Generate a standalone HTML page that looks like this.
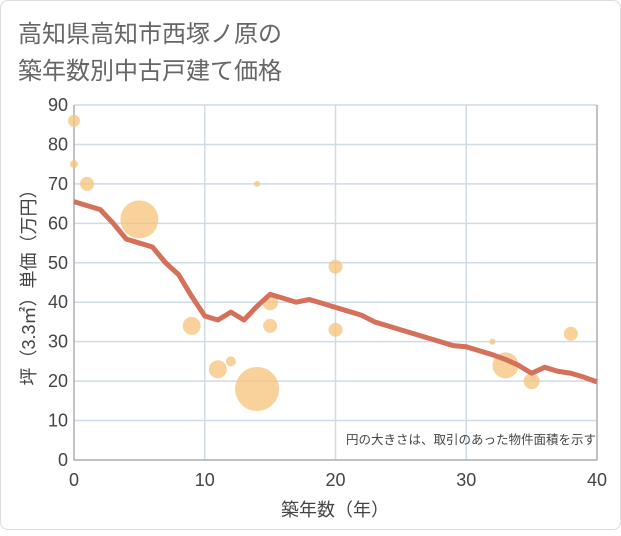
<!DOCTYPE html>
<html><head><meta charset="utf-8"><style>
body{margin:0;background:#fff;}
#c{position:absolute;left:0;top:0;width:619px;height:528px;border:1px solid #ddd;border-radius:8px;background:#fff;}
text{font-family:"Liberation Sans","Noto Sans CJK JP",sans-serif;}
</style></head><body>
<div id="c">
<svg id="s" width="621" height="530">
<text x="17" y="41" font-size="24" fill="#666">高知県高知市西塚ノ原の</text>
<text x="17" y="78" font-size="24" fill="#666">築年数別中古戸建て価格</text>
<g id="grid"></g><g id="marks"></g>
<text x="334" y="515" font-size="18" fill="#444" text-anchor="middle">築年数（年）</text>
<text transform="translate(34,282) rotate(-90)" font-size="18" fill="#444" text-anchor="middle">坪（3.3㎡）単価（万円）</text>
<text x="595" y="443" font-size="12.5" fill="#444" text-anchor="end">円の大きさは、取引のあった物件面積を示す</text>
</svg></div>
<script>
const xTicks=[0,10,20,30,40];
const yTicks=[0,10,20,30,40,50,60,70,80,90];
const lineYears=[0,1,2,3,4,5,6,7,8,9,10,11,12,13,14,15,16,17,18,19,20,21,22,23,24,25,26,27,28,29,30,31,32,33,34,35,36,37,38,39,40];
const lineValues=[65.5,64.5,63.5,60,56,55,54,50,47,41.5,36.5,35.5,37.5,35.5,39,42,41,40,40.7,39.7,38.7,37.7,36.7,35,34,33,32,31,30,29,28.7,27.7,26.7,25.5,24,22,23.5,22.5,22,21,19.8];
const bubX=[0,0,1,5,9,11,12,14,14,15,15,20,20,32,33,35,38];
const bubY=[86,75,70,61,34,23,25,18,70,40,34,49,33,30,24,20,32];
const bubR=[6,4,7,19,9,9,5,22,3,8,7,7,7,3,13,8,7];
const X=v=>73+v*(596-73)/40, Y=v=>459-v*(459-104)/90;
const ns='http://www.w3.org/2000/svg';
function mk(t,a,p){const e=document.createElementNS(ns,t);for(const k in a)e.setAttribute(k,a[k]);p.appendChild(e);return e;}
const g=document.getElementById('grid'),m=document.getElementById('marks');
yTicks.forEach(v=>{const l=mk('line',{x1:73,x2:596,y1:Y(v),y2:Y(v),stroke:'#cfdbe8','stroke-width':1.5},g);

const t=mk('text',{x:67,y:Y(v)+6,'font-size':18,fill:'#444','text-anchor':'end'},g);t.textContent=v;
});
xTicks.forEach(v=>{const l=mk('line',{x1:X(v),x2:X(v),y1:104,y2:459,stroke:'#cfdbe8','stroke-width':1.5},g);

const t=mk('text',{x:X(v),y:485,'font-size':18,fill:'#444','text-anchor':'middle'},g);t.textContent=v;
});
const ax=mk('path',{d:'M73 104V459H596V104',fill:'none',stroke:'#999','stroke-width':1},g);

bubX.forEach((x,i)=>{const c=mk('circle',{cx:X(x),cy:Y(bubY[i]),r:bubR[i],fill:'#f5c378','fill-opacity':0.75},m);
});
const p=mk('polyline',{points:lineYears.map((x,i)=>X(x)+','+Y(lineValues[i])).join(' '),fill:'none',stroke:'#d5705a','stroke-width':5,'stroke-linejoin':'round'},m);

</script></body></html>
